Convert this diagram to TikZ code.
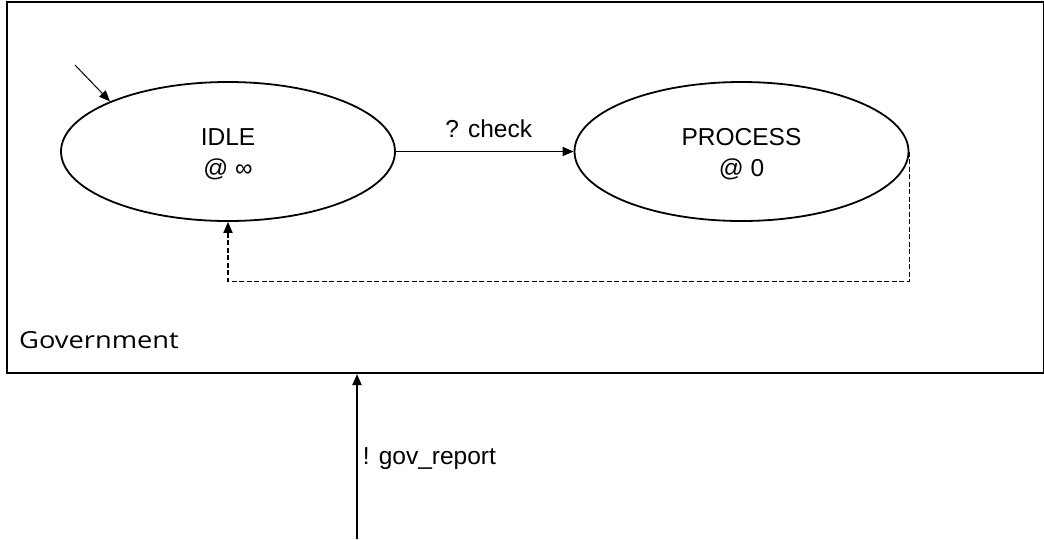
\documentclass[tikz,border=0pt]{standalone}
\usepackage{fontspec}
\setmainfont{Liberation Sans}
\newfontfamily\govfont{Open Sans}
\usetikzlibrary{arrows.meta,shapes.geometric}
\tikzset{
  every node/.style={font=\fontsize{24.5}{31}\selectfont},
  state/.style={draw, line width=1.8pt, ellipse, minimum width=334pt, minimum height=139pt, inner sep=0pt},
  statetext/.style={align=center, inner sep=0pt, yshift=-2.5pt},
  tip/.style={-{Triangle[length=11pt,width=9pt]}},
  conn/.style={line width=1.8pt, tip},
  lbl/.style={inner sep=0pt}
}
\begin{document}
\begin{tikzpicture}[x=1pt,y=-1pt]
\useasboundingbox (0,0) rectangle (1044,539);
\node[draw, line width=2pt, minimum width=1037pt, minimum height=371pt, anchor=north west, inner sep=0pt] (gov) at (6,1) {};
\node[lbl, anchor=base west, font=\govfont\fontsize{23.5}{27}\selectfont] (govlabel) at (19,348.5) {\scalebox{1.16}[1]{Government}};
\node[state] (idle) at (228,151.5) {};
\node[statetext] (idletxt) at (idle.center) {IDLE\\@ ∞};
\node[state] (proc) at (741.5,151.5) {};
\node[statetext] (proctxt) at (proc.center) {PROCESS\\@ 0};
\coordinate (init) at (75,65);
\draw[line width=1pt, tip] (init) -- (idle.157);
\draw[conn] (idle.east) -- node[lbl, above=13pt, xshift=4pt] (checklbl) {? check} (proc.west);
\draw[conn, dash pattern=on 5pt off 2.5pt] (proc.east) -- ++(0,130) -| (idle.south);
\coordinate (src) at (357,539);
\draw[conn] (src) -- (src |- gov.south) node[lbl, pos=0.5, right=5pt, yshift=-2pt] (govrep) {! gov\_report};
\end{tikzpicture}
\end{document}
